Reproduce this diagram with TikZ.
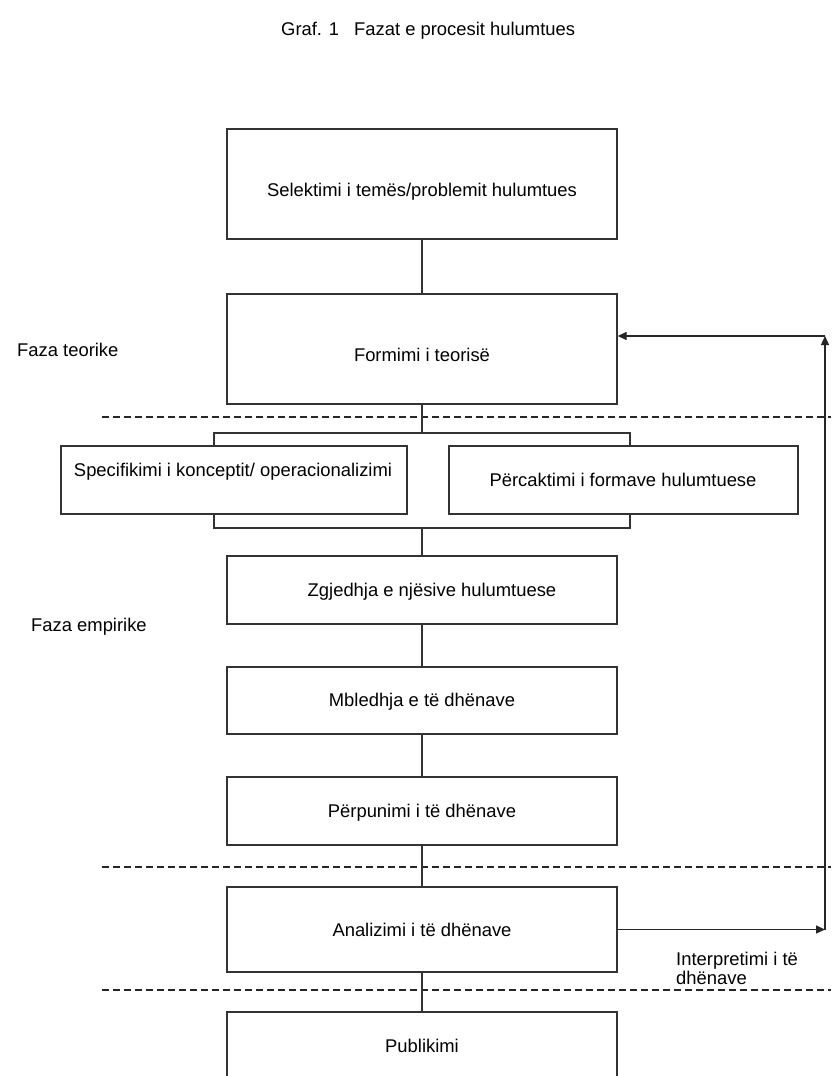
\documentclass[tikz,border=0pt]{standalone}
\usepackage{fontspec}
\setmainfont{Liberation Sans}
\usetikzlibrary{arrows.meta}
\begin{document}
\begin{tikzpicture}[x=1pt,y=-1pt,
  box/.style={draw=black!80, line width=1.3pt, fill=white, inner sep=0pt},
  grpbox/.style={draw=black!80, line width=1.3pt, inner sep=0pt},
  txt/.style={font=\fontsize{18.4}{22}\selectfont, inner sep=0pt, text height=13.2pt, text depth=0pt},
  conn/.style={draw=black!80, line width=1.3pt},
  arr/.style={draw=black!85, line width=1.3pt, -{Triangle[length=9pt,width=8pt]}},
  phase/.style={draw=black!85, line width=1.3pt, dash pattern=on 7pt off 4pt}]
\clip (0,0) rectangle (831,1076);
\fill[white] (0,0) rectangle (831,1076);

% title
\node[txt, anchor=west] (title) at (281,29) {Graf. 1\hspace{15pt}Fazat e procesit hulumtues};

% phase separators
\coordinate (d1a) at (102,417); \coordinate (d1b) at (831,417);
\coordinate (d2a) at (102,867); \coordinate (d2b) at (831,867);
\coordinate (d3a) at (102,990); \coordinate (d3b) at (831,990);
\draw[phase] (d1a) -- (d1b);
\draw[phase] (d2a) -- (d2b);
\draw[phase] (d3a) -- (d3b);

% boxes
\node[box, minimum width=390pt, minimum height=110pt] (b1) at (422,184) {};
\node[box, minimum width=390pt, minimum height=110pt] (b2) at (422,349) {};
\node[grpbox, minimum width=416pt, minimum height=95pt] (grp) at (422,480.5) {};
\node[box, minimum width=346pt, minimum height=68pt] (spec) at (234,480) {};
\node[box, minimum width=349pt, minimum height=68pt] (perc) at (623.5,480) {};
\node[box, minimum width=390pt, minimum height=68pt] (b3) at (422,590) {};
\node[box, minimum width=390pt, minimum height=67pt] (b4) at (422,700.5) {};
\node[box, minimum width=390pt, minimum height=68pt] (b5) at (422,811) {};
\node[box, minimum width=390pt, minimum height=85pt] (b6) at (422,929.5) {};
\node[box, minimum width=390pt, minimum height=120pt] (b7) at (422,1072) {};

% box texts
\node[txt] (t1) at (422,189.5) {Selektimi i temës/problemit hulumtues};
\node[txt] (t2) at (422,354.5) {Formimi i teorisë};
\node[txt] (tspec) at (233,470) {Specifikimi i konceptit/ operacionalizimi};
\node[txt] (tperc) at (623,479.5) {Përcaktimi i formave hulumtuese};
\node[txt] (t3) at (432,590) {Zgjedhja e njësive hulumtuese};
\node[txt] (t4) at (422,700) {Mbledhja e të dhënave};
\node[txt] (t5) at (422,810.5) {Përpunimi i të dhënave};
\node[txt] (t6) at (422,929.5) {Analizimi i të dhënave};
\node[txt] (t7) at (422,1045.5) {Publikimi};

% phase labels
\node[txt, anchor=west] (fteo) at (17,350) {Faza teorike};
\node[txt, anchor=west] (femp) at (31,625) {Faza empirike};
\node[font=\fontsize{18.4}{19.5}\selectfont, inner sep=0pt, align=left, anchor=north west] (interp) at (676,951.5) {Interpretimi i të\\dhënave};

% connectors
\draw[conn] (b1.south) -- (b2.north);
\draw[conn] (b2.south) -- (grp.north);
\draw[conn] (grp.south) -- (b3.north);
\draw[conn] (b3.south) -- (b4.north);
\draw[conn] (b4.south) -- (b5.north);
\draw[conn] (b5.south) -- (b6.north);
\draw[conn] (b6.south) -- (b7.north);

% feedback loop
\coordinate (r1) at (825,929.5);
\coordinate (r2) at (825,336);
\draw[arr] (b6.east) -- (r1);
\draw[arr] (r1) -- (r2);
\draw[arr] (r2) -- (b2.east |- r2);
\end{tikzpicture}
\end{document}
